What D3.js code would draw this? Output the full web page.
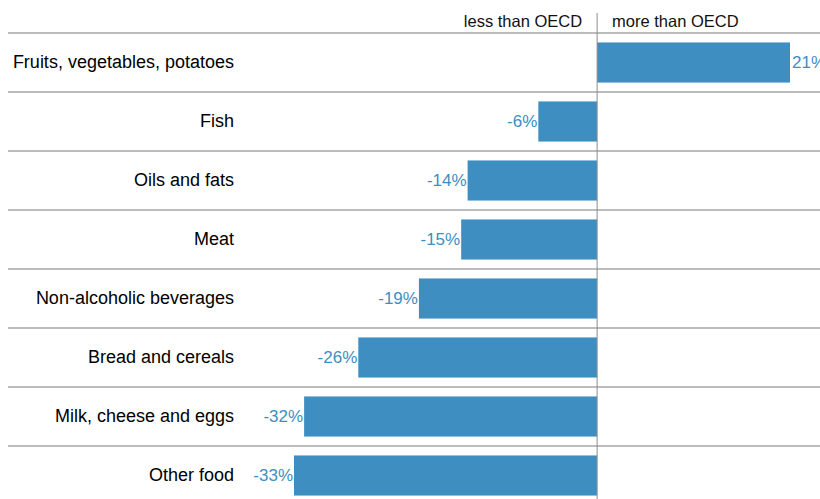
<!DOCTYPE html>
<html><head><meta charset="utf-8">
<script src="https://cdn.jsdelivr.net/npm/d3@7"></script>
<style>body{margin:0;background:#fff}svg{display:block}text{font-family:"Liberation Sans",Arial,sans-serif}</style>
</head><body>
<svg id="c" width="820" height="499"></svg>
<script>
const categories = ["Fruits, vegetables, potatoes","Fish","Oils and fats","Meat","Non-alcoholic beverages","Bread and cereals","Milk, cheese and eggs","Other food"];
const values = [21.0,-6.4,-14.1,-14.8,-19.4,-26.0,-31.9,-33.0];
const valueLabels = ["21%","-6%","-14%","-15%","-19%","-26%","-32%","-33%"];
const headers = ["less than OECD","more than OECD"];

const svg = d3.select("#c");
const W = 820, H = 499;
const rowH = 59, topY = 33;
const x = d3.scaleLinear().domain([-33, 21]).range([294, 790]);
const y = d3.scaleBand().domain(categories).range([topY, topY + rowH*categories.length]).paddingInner(0.32).paddingOuter(0.16);
const blue = "#3e8ec1";

// row separators
const seps = d3.range(categories.length).map(i => topY + i*rowH);
svg.selectAll("line.sep").data(seps).join("line")
  .attr("x1", 8).attr("x2", W).attr("y1", d=>d).attr("y2", d=>d)
  .attr("stroke", "#a6a6a6").attr("stroke-width", 1.5);

// bars
svg.selectAll("rect.bar").data(values).join("rect")
  .attr("x", d => x(Math.min(0,d)))
  .attr("width", d => Math.abs(x(d)-x(0)))
  .attr("y", (d,i) => y(categories[i]))
  .attr("height", y.bandwidth())
  .attr("fill", blue);

// zero line
svg.append("line").attr("x1", x(0)).attr("x2", x(0)).attr("y1", 13).attr("y2", H)
  .attr("stroke", "#8c8c8c").attr("stroke-width", 1);

// headers
svg.append("text").attr("x", x(0)-15).attr("y", 27).attr("text-anchor","end")
  .attr("font-size", 16.5).attr("fill","#111").text(headers[0]);
svg.append("text").attr("x", x(0)+15).attr("y", 27).attr("text-anchor","start")
  .attr("font-size", 16.5).attr("fill","#111").text(headers[1]);

// category labels
svg.selectAll("text.cat").data(categories).join("text")
  .attr("x", 234).attr("y", d => y(d)+y.bandwidth()/2).attr("dy","0.3em")
  .attr("text-anchor","end").attr("font-size", 18).attr("fill","#000").text(d=>d);

// value labels
svg.selectAll("text.val").data(values).join("text")
  .attr("x", d => d<0 ? x(d)-1 : x(d)+2)
  .attr("y", (d,i) => y(categories[i])+y.bandwidth()/2).attr("dy","0.32em")
  .attr("text-anchor", d => d<0 ? "end" : "start")
  .attr("font-size", 17).attr("fill", blue).text((d,i)=>valueLabels[i]);
</script>
</body></html>
